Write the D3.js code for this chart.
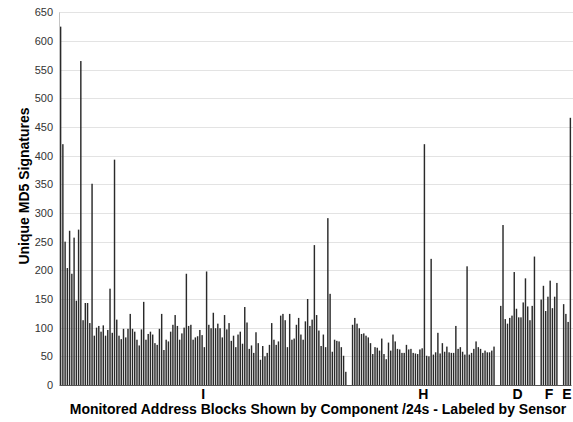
<!DOCTYPE html>
<html>
<head>
<meta charset="utf-8">
<script src="https://cdn.jsdelivr.net/npm/d3@7/dist/d3.min.js"></script>
<style>
  html, body { margin: 0; padding: 0; background: #fff; }
  svg { display: block; font-family: "Liberation Sans", Arial, sans-serif; }
</style>
</head>
<body>
<svg id="chart" width="573" height="422"></svg>
<script>
// Unique MD5 signatures per monitored /24, grouped by sensor
const sensorNames = ["I", "H", "D", "F", "E"];

const valuesI = [
  625, 420, 250, 204, 269, 194, 257, 147, 271, 565, 113, 143, 143, 108, 351, 86,
  100, 103, 93, 104, 86, 96, 168, 91, 393, 114, 86, 80, 98, 83, 98, 124,
  98, 93, 79, 69, 97, 145, 79, 89, 93, 88, 73, 70, 98, 124, 61, 79,
  76, 93, 105, 122, 103, 79, 90, 100, 194, 103, 105, 79, 83, 85, 96, 87,
  66, 198, 105, 99, 126, 99, 107, 99, 83, 122, 97, 108, 77, 86, 66, 88,
  93, 72, 136, 109, 63, 69, 56, 92, 73, 44, 68, 50, 56, 70, 108, 79,
  70, 76, 121, 124, 113, 66, 124, 79, 81, 105, 117, 88, 79, 111, 150, 103,
  114, 244, 122, 95, 68, 88, 66, 291, 159, 58, 79, 77, 76, 66, 51, 23
];
const valuesH = [
  105, 117, 107, 99, 89, 90, 86, 83, 73, 54, 66, 65, 60, 81, 54, 45,
  74, 60, 88, 76, 63, 62, 56, 56, 70, 62, 63, 56, 55, 54, 62,
  64, 420, 51, 50, 220, 53, 57, 91, 55, 73, 58, 67, 57, 56, 56, 103,
  63, 66, 58, 53, 207, 53, 56, 63, 76, 66, 63, 56, 60, 57, 57, 60, 67
];
const valuesD = [138, 279, 115, 107, 117, 121, 197, 133, 118, 118, 144, 186, 137, 113, 138, 224];
const valuesF = [149, 173, 129, 154, 182, 134, 154, 178];
const valuesE = [141, 124, 110, 466];

const yTicks = [0, 50, 100, 150, 200, 250, 300, 350, 400, 450, 500, 550, 600, 650];
const yTitle = "Unique MD5 Signatures";
const xTitle = "Monitored Address Blocks Shown by Component /24s - Labeled by Sensor";

// empty category slots left between sensor groups
const blankSlots = 2;

const groups = [valuesI, valuesH, valuesD, valuesF, valuesE].map((vals, i) => ({
  name: sensorNames[i], values: vals
}));

// Flatten into one category axis with blank slots between groups
const slots = [];
const groupSpans = [];
groups.forEach((g, gi) => {
  if (gi > 0) for (let k = 0; k < blankSlots; k++) slots.push({ idx: slots.length, value: null });
  const start = slots.length;
  g.values.forEach(v => slots.push({ idx: slots.length, value: v, group: g.name }));
  groupSpans.push({ name: g.name, first: start, last: slots.length - 1 });
});

const svg = d3.select("#chart");
const plot = { left: 59.5, right: 571.5, top: 12.3, bottom: 385 };

const x = d3.scaleBand()
  .domain(slots.map(d => d.idx))
  .range([plot.left, plot.right])
  .paddingInner(0.36)
  .paddingOuter(0.18);

const y = d3.scaleLinear().domain([0, 650]).range([plot.bottom, plot.top]);

// horizontal gridlines
svg.append("g")
  .selectAll("line")
  .data(yTicks.filter(t => t > 0))
  .join("line")
  .attr("x1", plot.left)
  .attr("x2", 573)
  .attr("y1", d => Math.round(y(d)) + 0.5)
  .attr("y2", d => Math.round(y(d)) + 0.5)
  .attr("stroke", "#e3e3e3")
  .attr("stroke-width", 1);

// y axis tick labels
svg.append("g")
  .selectAll("text")
  .data(yTicks)
  .join("text")
  .attr("x", 53)
  .attr("y", d => y(d))
  .attr("dy", "0.36em")
  .attr("text-anchor", "end")
  .attr("font-size", 11)
  .attr("fill", "#333")
  .text(d => d);

// bars
svg.append("g")
  .selectAll("rect")
  .data(slots.filter(d => d.value !== null))
  .join("rect")
  .attr("x", d => x(d.idx))
  .attr("width", x.bandwidth())
  .attr("y", d => y(d.value))
  .attr("height", d => y(0) - y(d.value))
  .attr("fill", "#2a2a2a");

// axis lines
svg.append("line")
  .attr("x1", 59.5).attr("x2", 59.5)
  .attr("y1", plot.top).attr("y2", plot.bottom)
  .attr("stroke", "#c4c4c4");
svg.append("line")
  .attr("x1", plot.left).attr("x2", plot.right)
  .attr("y1", plot.bottom + 0.5).attr("y2", plot.bottom + 0.5)
  .attr("stroke", "#555");

// sensor labels centred under each group
svg.append("g")
  .selectAll("text")
  .data(groupSpans)
  .join("text")
  .attr("x", d => (x(d.first) + x(d.last) + x.bandwidth()) / 2)
  .attr("y", 399)
  .attr("text-anchor", "middle")
  .attr("font-size", 14)
  .attr("font-weight", "bold")
  .attr("fill", "#000")
  .text(d => d.name);

// axis titles
svg.append("text")
  .attr("x", 318)
  .attr("y", 414)
  .attr("text-anchor", "middle")
  .attr("font-size", 14)
  .attr("font-weight", "bold")
  .text(xTitle);

svg.append("text")
  .attr("transform", "translate(29,186) rotate(-90)")
  .attr("text-anchor", "middle")
  .attr("font-size", 14)
  .attr("font-weight", "bold")
  .text(yTitle);
</script>
</body>
</html>
